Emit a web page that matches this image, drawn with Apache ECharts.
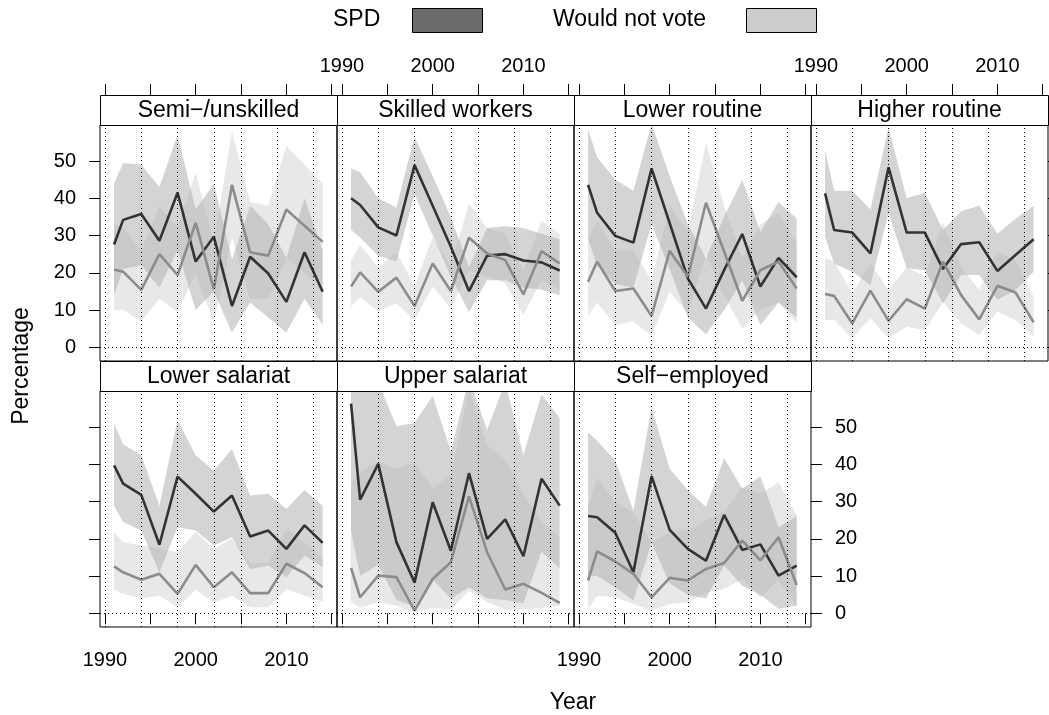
<!DOCTYPE html>
<html>
<head>
<meta charset="utf-8">
<title>SPD and non-voting by class</title>
<script src="https://cdn.jsdelivr.net/npm/echarts@6/dist/echarts.min.js"></script>
<style>
  html, body { margin: 0; padding: 0; background: #fff; }
  #chart { width: 1049px; height: 715px; }
</style>
</head>
<body>
<div id="chart"></div>
<script>
const FONT = '"Liberation Sans", Arial, Helvetica, sans-serif'

const years = [1991, 1992, 1994, 1996, 1998, 2000, 2002, 2004, 2006, 2008, 2010, 2012, 2014]
const electionYears = [1990, 1994, 1998, 2002, 2005, 2009, 2013]
const xTickValues = [1990, 1995, 2000, 2005, 2010, 2015]
const xLabelValues = [1990, 2000, 2010]
const yTickValues = [0, 10, 20, 30, 40, 50]
const panels = ['Semi−/unskilled', 'Skilled workers', 'Lower routine', 'Higher routine',
  'Lower salariat', 'Upper salariat', 'Self−employed']

// SPD share, one row per panel
const spdShare = [
  [27.6, 34.2, 35.8, 28.6, 41.5, 23.0, 29.7, 11.1, 24.3, 19.8, 12.2, 25.5, 14.9],
  [40.0, 38.2, 32.2, 30.0, 48.9, 38.0, 27.0, 15.1, 24.6, 25.0, 23.3, 22.8, 20.6],
  [43.6, 36.1, 29.9, 28.1, 48.0, 33.3, 18.5, 10.4, 20.7, 30.4, 16.3, 24.0, 18.8],
  [41.3, 31.5, 30.8, 25.2, 48.3, 30.8, 30.8, 21.0, 27.7, 28.2, 20.5, 24.8, 29.0],
  [39.7, 34.8, 31.8, 18.4, 36.7, 32.1, 27.3, 31.6, 20.6, 22.2, 17.3, 23.6, 18.9],
  [56.3, 30.5, 40.1, 19.1, 8.3, 29.8, 16.8, 37.6, 20.0, 25.2, 15.3, 36.1, 28.9],
  [26.1, 25.8, 21.6, 11.0, 36.8, 22.4, 17.3, 14.1, 26.4, 17.0, 18.5, 10.1, 12.8]
]
const spdLower = [
  [14, 21, 22, 16, 26, 10, 15, 4, 12, 8, 4, 13, 6],
  [31.5, 29.5, 24.5, 23, 41, 30, 19, 9.5, 18, 18, 16, 15.5, 14],
  [29, 22, 17, 16, 33, 21, 8, 3.5, 10, 18, 6, 12, 8],
  [29.7, 22.5, 20.3, 16.7, 36, 21.2, 20.7, 11.8, 19.4, 19.4, 12.7, 15.4, 20.3],
  [28.9, 24.5, 22.2, 11, 23.1, 22.2, 18.2, 20.4, 11.9, 12.8, 9.7, 15.5, 12.4],
  [22, 10, 13, 3.6, 1.8, 9, 4, 7, 4, 3.6, 2.7, 16.6, 12],
  [10, 10, 7, 3.4, 19, 8, 5, 4, 12.8, 7.4, 5, 1.2, 2]
]
const spdUpper = [
  [44, 49.5, 49, 43, 57, 37, 44, 23.5, 38, 33, 24, 40, 26],
  [48, 47, 40, 37.5, 56.5, 46, 35, 21.5, 32, 32.5, 32, 30.5, 29],
  [58.5, 51, 45, 42, 60, 46, 33, 24, 35, 45, 31, 39, 34.5],
  [53, 42, 42, 37, 59, 40, 41.5, 31.5, 36.5, 38, 30.5, 34.5, 38],
  [50.9, 45.4, 42.4, 28.9, 51.8, 42.4, 38.3, 44.1, 31.6, 32.1, 28, 33.1, 28.9],
  [75, 62, 62, 50.2, 51.1, 58.4, 43.4, 63, 49.3, 62, 42.5, 58.7, 52.4],
  [48.6, 46.3, 41, 27.5, 55.3, 38.8, 33, 28.5, 41.6, 33.4, 36.8, 23.1, 26.1]
]

// would not vote share
const nvShare = [
  [20.9, 20.3, 15.4, 25.0, 19.4, 33.4, 15.6, 43.6, 25.5, 24.6, 37.0, 32.6, 28.3],
  [16.3, 20.1, 14.9, 18.7, 11.1, 22.5, 15.1, 29.4, 25.2, 23.4, 14.2, 25.8, 22.5],
  [17.6, 23.0, 15.1, 15.8, 8.4, 25.9, 18.9, 38.8, 25.7, 12.5, 20.7, 23.0, 15.8],
  [14.3, 13.8, 6.4, 15.2, 7.1, 12.9, 10.4, 23.0, 14.0, 7.5, 16.5, 14.7, 6.7],
  [12.6, 11.0, 9.0, 10.6, 5.2, 13.0, 7.0, 11.0, 5.4, 5.4, 13.3, 10.8, 7.0],
  [12.2, 4.3, 10.1, 9.7, 0.7, 9.2, 13.7, 31.4, 16.4, 6.4, 7.9, 5.5, 2.8],
  [8.8, 16.6, 13.9, 10.6, 4.3, 9.5, 8.8, 11.9, 13.5, 19.5, 14.2, 20.4, 7.6]
]
const nvLower = [
  [10, 10, 7, 13, 9.5, 20, 6.5, 29.5, 13, 13, 24, 20, 16],
  [10.9, 13.6, 9.6, 11.8, 7.3, 16.3, 10.4, 20.7, 19, 17.2, 8.7, 18, 15.4],
  [8.5, 12, 6, 7, 3, 15, 9, 25, 14, 5, 10, 12, 6.5],
  [7.3, 7.3, 2.4, 7.8, 2.4, 5.5, 4.6, 12, 6.4, 3.3, 9.6, 7.3, 2.9],
  [6.4, 5.2, 4, 4.7, 1.6, 6.4, 2.9, 4.7, 1.6, 1.6, 6.5, 4.7, 3.1],
  [3, 1.5, 3, 2, 0.3, 1.5, 1, 6, 3, 1, 1, 1.5, 2],
  [1.2, 4.7, 4.3, 2.5, 0.7, 2.5, 2.9, 5.6, 6.5, 9.2, 4.3, 8.8, 2]
]
const nvUpper = [
  [33, 32, 26, 38, 32, 47, 28, 58, 39, 38, 54, 49, 44],
  [23.4, 27.5, 21.5, 25.5, 16.5, 29.5, 22, 38.5, 32, 30.5, 20.5, 34, 30.5],
  [29, 34, 26, 26, 18, 38, 31, 55, 38, 24, 33, 36, 28],
  [24, 23, 14.5, 22.5, 15.4, 21.5, 19, 33.5, 21.6, 15.4, 25.6, 23.4, 13.6],
  [21.8, 19.1, 18.2, 17.3, 16.4, 21.8, 17.3, 20, 13.5, 13.5, 22.7, 19, 14.6],
  [35, 38, 40.8, 38.9, 40.5, 33.4, 37, 60, 45, 41, 32, 24.6, 20.6],
  [28.9, 36.4, 30, 27, 19, 21.8, 22.2, 24.9, 27.1, 33.9, 32, 35.2, 26.3]
]

// layout of the lattice
const colLeft = [100, 337, 574, 811]
const rowTop = [125, 391]
const panelW = 237
const panelH = 236
const stripH = 30
const xMin = 1989.45
const xMax = 2015.58
const yMin = -3.68
const yMax = 59.67

const chart = echarts.init(document.getElementById('chart'))

const grids = []
const xAxes = []
const yAxes = []
const series = []
const graphics = []

const yearLabel = v => String(v)

// one polygon per band: upper edge forward, lower edge back
function bandRenderer (fill) {
  return function (params, api) {
    if (params.dataIndexInside !== 0) return
    const n = params.dataInsideLength
    const pts = []
    for (let i = 0; i < n; i++) pts.push(api.coord([api.value(0, i), api.value(2, i)]))
    for (let i = n - 1; i >= 0; i--) pts.push(api.coord([api.value(0, i), api.value(1, i)]))
    const cs = params.coordSys
    return {
      type: 'polygon',
      shape: { points: pts },
      style: { fill: fill, stroke: null },
      clipPath: { type: 'rect', shape: { x: cs.x, y: cs.y, width: cs.width, height: cs.height } }
    }
  }
}

panels.forEach((name, p) => {
  const row = p < 4 ? 0 : 1
  const col = row === 0 ? p : p - 4
  const left = colLeft[col]
  const top = rowTop[row]

  grids.push({
    left: left, top: top, width: panelW, height: panelH,
    show: true, borderColor: '#000', borderWidth: 1,
    backgroundColor: 'transparent', outerBoundsMode: 'none'
  })

  xAxes.push({
    gridIndex: p, type: 'value', min: xMin, max: xMax, position: 'bottom',
    show: row === 1,
    axisLine: { show: false },
    splitLine: { show: false },
    axisTick: { show: true, length: 11, lineStyle: { color: '#000', width: 1 }, customValues: xTickValues },
    axisLabel: {
      show: row === 1 && col !== 1, customValues: xLabelValues, formatter: yearLabel,
      margin: 23, fontSize: 20, color: '#000', fontFamily: FONT
    }
  })

  const leftSide = p === 0 || p === 4
  yAxes.push({
    gridIndex: p, type: 'value', min: yMin, max: yMax,
    position: leftSide ? 'left' : 'right',
    show: leftSide || p === 3 || p === 6,
    axisLine: { show: false },
    splitLine: { show: false },
    axisTick: { show: true, length: 11, lineStyle: { color: '#000', width: 1 }, customValues: yTickValues },
    axisLabel: {
      show: p === 0 || p === 6, customValues: yTickValues,
      margin: 24, fontSize: 20, color: '#000', fontFamily: FONT
    }
  })

  const band = (lo, hi, fill) => {
    series.push({
      type: 'custom', xAxisIndex: p, yAxisIndex: p, silent: true, z: 1,
      renderItem: bandRenderer(fill),
      encode: { x: 0, y: [1, 2] },
      data: years.map((y, k) => [y, lo[k], hi[k]])
    })
  }
  band(spdLower[p], spdUpper[p], 'rgba(165,165,165,0.48)')
  band(nvLower[p], nvUpper[p], 'rgba(179,179,179,0.3)')

  // dotted reference lines: election years and zero
  series.push({
    type: 'line', xAxisIndex: p, yAxisIndex: p, data: [], silent: true, z: 3,
    markLine: {
      silent: true, animation: false, symbol: ['none', 'none'],
      label: { show: false },
      lineStyle: { color: '#000', width: 1, type: [1, 3] },
      emphasis: { disabled: true },
      data: electionYears.map(y => ({ xAxis: y })).concat([{ yAxis: 0 }])
    }
  })

  series.push({
    name: 'SPD', type: 'line', xAxisIndex: p, yAxisIndex: p, z: 4,
    data: years.map((y, k) => [y, spdShare[p][k]]),
    symbol: 'none', animation: false,
    itemStyle: { color: '#333333' },
    lineStyle: { color: '#333333', width: 2.6 }
  })
  series.push({
    name: 'Would not vote', type: 'line', xAxisIndex: p, yAxisIndex: p, z: 4,
    data: years.map((y, k) => [y, nvShare[p][k]]),
    symbol: 'none', animation: false,
    itemStyle: { color: '#8c8c8c' },
    lineStyle: { color: '#8c8c8c', width: 2.6 }
  })

  // strip
  graphics.push({
    type: 'rect', z: 10,
    shape: { x: left + 0.5, y: top - stripH + 0.5, width: panelW, height: stripH },
    style: { fill: '#fff', stroke: '#000', lineWidth: 1 }
  })
  graphics.push({
    type: 'text', z: 11, x: left + panelW / 2, y: top - stripH / 2 + 1,
    style: { text: name, fontSize: 23, fontFamily: FONT, fill: '#000', align: 'center', verticalAlign: 'middle' }
  })
})

// tick marks above the top row strips
for (let c = 0; c < 4; c++) {
  xAxes.push({
    gridIndex: c, type: 'value', min: xMin, max: xMax, position: 'top', offset: stripH,
    axisLine: { show: false },
    splitLine: { show: false },
    axisTick: { show: true, length: 11, lineStyle: { color: '#000', width: 1 }, customValues: xTickValues },
    axisLabel: {
      show: c % 2 === 1, customValues: xLabelValues, formatter: yearLabel,
      margin: 19, fontSize: 20, color: '#000', fontFamily: FONT
    }
  })
}

// key
graphics.push(
  { type: 'text', x: 333, y: 20, style: { text: 'SPD', fontSize: 23, fontFamily: FONT, fill: '#000', verticalAlign: 'middle' } },
  { type: 'rect', shape: { x: 412.5, y: 8.5, width: 70, height: 24 }, style: { fill: '#6b6b6b', stroke: '#000', lineWidth: 1 } },
  { type: 'text', x: 553, y: 20, style: { text: 'Would not vote', fontSize: 23, fontFamily: FONT, fill: '#000', verticalAlign: 'middle' } },
  { type: 'rect', shape: { x: 746.5, y: 8.5, width: 70, height: 24 }, style: { fill: '#cccccc', stroke: '#000', lineWidth: 1 } },
  { type: 'text', x: 573, y: 703, style: { text: 'Year', fontSize: 23, fontFamily: FONT, fill: '#000', align: 'center', verticalAlign: 'middle' } },
  { type: 'text', x: 22, y: 366, rotation: Math.PI / 2, style: { text: 'Percentage', fontSize: 23, fontFamily: FONT, fill: '#000', align: 'center', verticalAlign: 'middle' } }
)

chart.setOption({
  animation: false,
  backgroundColor: '#fff',
  textStyle: { fontFamily: FONT },
  grid: grids,
  xAxis: xAxes,
  yAxis: yAxes,
  series: series,
  graphic: { elements: graphics }
})
</script>
</body>
</html>
